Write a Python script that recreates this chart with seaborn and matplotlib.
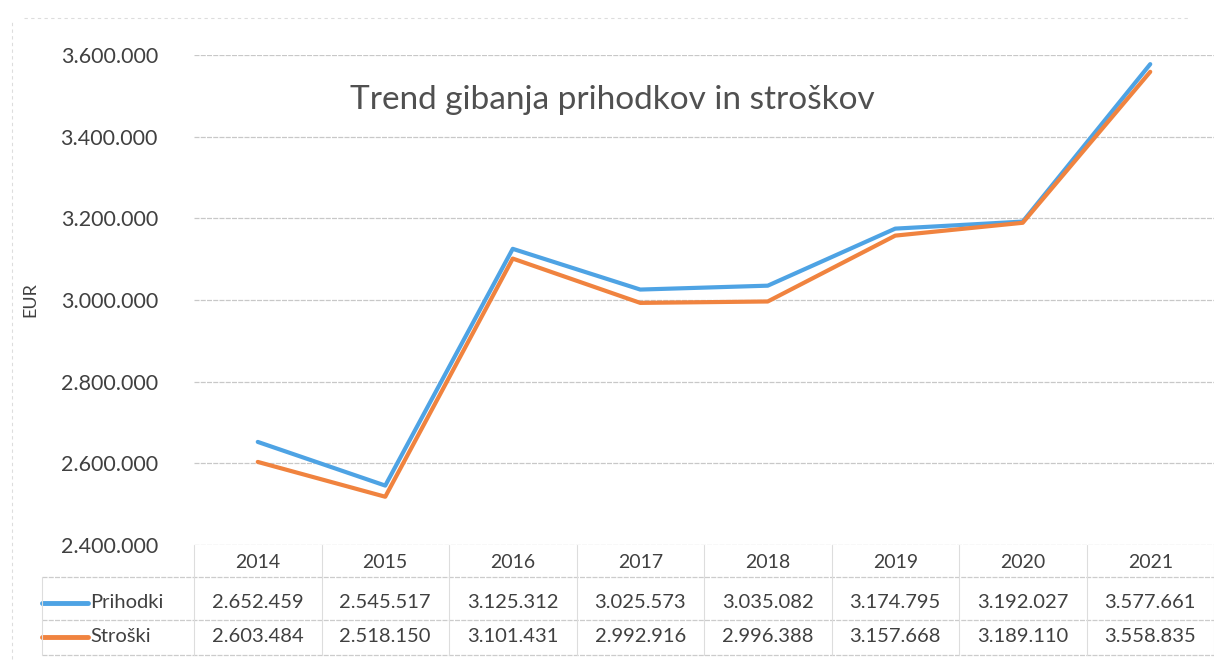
import pandas as pd
import seaborn as sns
import matplotlib.pyplot as plt
from matplotlib.lines import Line2D

leta = [2014, 2015, 2016, 2017, 2018, 2019, 2020, 2021]
prihodki = [2652459, 2545517, 3125312, 3025573, 3035082, 3174795, 3192027, 3577661]
stroski = [2603484, 2518150, 3101431, 2992916, 2996388, 3157668, 3189110, 3558835]
serije = ["Prihodki", "Stroški"]
barve = ["#4EA3E4", "#F0833F"]
y_ticks = [2400000, 2600000, 2800000, 3000000, 3200000, 3400000, 3600000]


def fmt(v):
    return f"{v:,}".replace(",", ".")


df = pd.DataFrame({
    "leto": leta * 2,
    "vrednost": prihodki + stroski,
    "serija": [serije[0]] * len(leta) + [serije[1]] * len(leta),
})

sns.set_theme(style="white")
plt.rcParams["font.family"] = ["Lato", "DejaVu Sans"]

fig = plt.figure(figsize=(12.14, 6.72), dpi=100)
ax = fig.add_axes([194 / 1214, 1 - 545 / 672, 1020 / 1214, 490 / 672])

sns.lineplot(data=df, x="leto", y="vrednost", hue="serija", palette=barve,
             linewidth=3, legend=False, ax=ax, zorder=3)

ax.set_xlim(2013.5, 2021.5)
ax.set_ylim(2400000, 3600000)
ax.set_yticks(y_ticks)
ax.set_yticklabels([fmt(v) for v in y_ticks], fontsize=15.5, color="#404040")
ax.set_xticks([])
ax.set_xlabel("")
ax.set_ylabel("EUR", fontsize=13, color="#404040", labelpad=16)
ax.tick_params(axis="y", length=0, pad=26)
ax.grid(axis="y", color="#c8c8c8", linewidth=0.9, linestyle=(0, (4, 1)))
for s in ax.spines.values():
    s.set_visible(False)

ax.text(0.41, 0.908, "Trend gibanja prihodkov in stroškov", transform=ax.transAxes,
        ha="center", va="center", fontsize=24, color="#505050")

# tabela s podatki pod grafom
tr = ax.get_xaxis_transform()
def ay(py):
    return (545 - py) / 490

for x in leta:
    ax.text(x, ay(563), str(x), transform=tr, ha="center", va="center",
            fontsize=14, color="#404040")
for i, (ime, vals) in enumerate(zip(serije, [prihodki, stroski])):
    yy = ay([603, 637][i])
    for x, v in zip(leta, vals):
        ax.text(x, yy, fmt(v), transform=tr, ha="center", va="center",
                fontsize=14.5, color="#404040")
    ax.plot([-0.149, -0.104], [yy, yy], transform=ax.transAxes, color=barve[i],
            linewidth=3.5, solid_capstyle="round", clip_on=False)
    ax.text(-0.102, yy, ime, transform=ax.transAxes, ha="left", va="center",
            fontsize=14.5, color="#404040")

for py in [577, 620, 655]:
    ax.plot([-0.149, 1.0], [ay(py), ay(py)], transform=ax.transAxes,
            color="#cccccc", linewidth=0.9, linestyle=(0, (4, 1)), clip_on=False)
for k in range(len(leta) + 1):
    xx = 2013.5 + k
    ax.plot([xx, xx], [ay(545), ay(655)], transform=tr, color="#dddddd",
            linewidth=0.8, clip_on=False)
ax.plot([-0.149, -0.149], [ay(577), ay(655)], transform=ax.transAxes,
        color="#dddddd", linewidth=0.8, clip_on=False)

fig.add_artist(Line2D([12 / 1214, 12 / 1214], [0.02, 0.97], color="#dddddd",
                      linewidth=0.8, linestyle=(0, (3, 3))))
fig.add_artist(Line2D([0.02, 0.98], [1 - 18 / 672, 1 - 18 / 672], color="#dddddd",
                      linewidth=0.8, linestyle=(0, (3, 3))))

fig.savefig("out.png", dpi=100)
